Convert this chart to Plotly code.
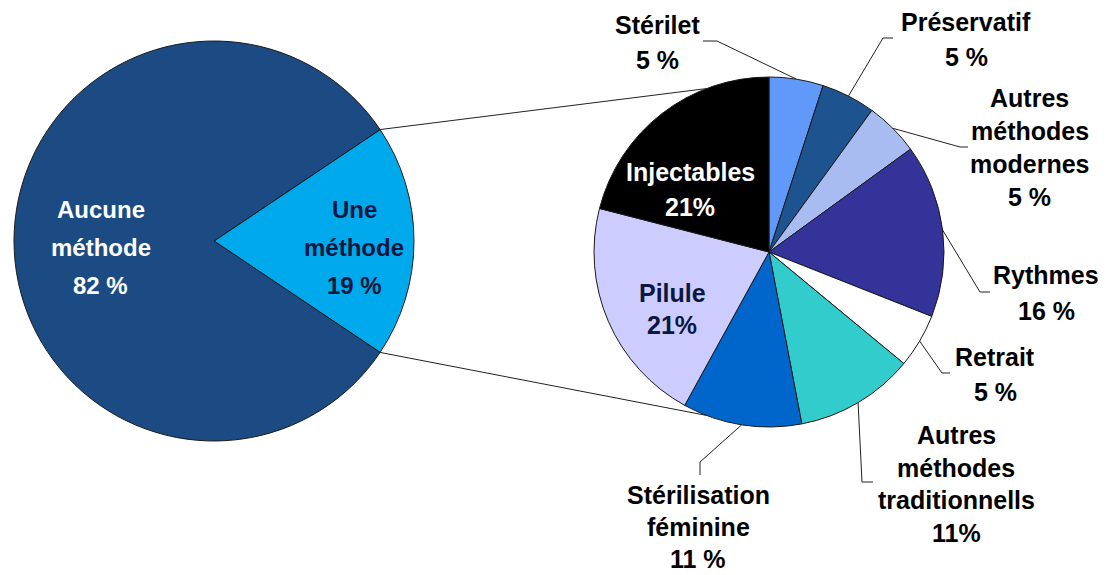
import math
import plotly.graph_objects as go

W, H = 1112, 575
OFF = 8  # the page body margin shifts the figure by this many pixels

# ---------------- data ----------------
LEFT_LABELS = ["Une méthode", "Aucune méthode"]
LEFT_VALUES = [19, 82]
LEFT_TEXT = ["19 %", "82 %"]
LEFT_COLORS = ["#00A9EC", "#1B4B82"]

RIGHT_LABELS = ["Stérilet", "Préservatif", "Autres méthodes modernes", "Rythmes",
                "Retrait", "Autres méthodes traditionnells", "Stérilisation féminine",
                "Pilule", "Injectables"]
RIGHT_VALUES = [5, 5, 5, 16, 5, 11, 11, 21, 21]
RIGHT_TEXT = ["5 %", "5 %", "5 %", "16 %", "5 %", "11%", "11 %", "21%", "21%"]
RIGHT_COLORS = ["#6199FA", "#1D538F", "#A9BCF2", "#333399", "#FFFFFF",
                "#33CCCC", "#0066CC", "#CCCCFF", "#000000"]

# ---------------- layout geometry (pixels in the photographed page) ----------------
LC = (214, 241); LR = 200      # left pie centre / radius
RC = (769, 252); RR = 175      # right pie centre / radius
CONNECT_ANGLE = 21             # where the connectors meet the right pie (deg from vertical)

FONT = "Liberation Sans, Arial, sans-serif"
FS = 24
FS_OUT = 25


def px(x):
    return (x - OFF) / W


def py(y):
    return 1 - (y - OFF) / H


def domain(c, r):
    return dict(x=[px(c[0] - r), px(c[0] + r)], y=[py(c[1] + r), py(c[1] - r)])


def on_circle(c, r, ang_deg):
    a = math.radians(ang_deg)
    return (c[0] + r * math.sin(a), c[1] - r * math.cos(a))


total_left = sum(LEFT_VALUES)
half_une = LEFT_VALUES[0] / total_left * 180.0
left_rotation = 90 - half_une

fig = go.Figure()
fig.add_trace(go.Pie(
    labels=LEFT_LABELS, values=LEFT_VALUES, sort=False, direction="clockwise",
    rotation=left_rotation, textinfo="none", hoverinfo="label+value",
    marker=dict(colors=LEFT_COLORS, line=dict(color="#1a1a1a", width=1)),
    domain=domain(LC, LR), showlegend=False,
))
fig.add_trace(go.Pie(
    labels=RIGHT_LABELS, values=RIGHT_VALUES, sort=False, direction="clockwise",
    rotation=0, textinfo="none", hoverinfo="label+value",
    marker=dict(colors=RIGHT_COLORS, line=dict(color="#1a1a1a", width=1)),
    domain=domain(RC, RR), showlegend=False,
))

shapes = []


def seg(p, q, color="#222222"):
    shapes.append(dict(type="line", xref="paper", yref="paper",
                       x0=px(p[0]), y0=py(p[1]), x1=px(q[0]), y1=py(q[1]),
                       line=dict(color=color, width=1)))


# connectors between the two pies
p_top = on_circle(LC, LR, 90 - half_une)
p_bot = on_circle(LC, LR, 90 + half_une)
q_top = on_circle(RC, RR, 360 - CONNECT_ANGLE)
q_bot = on_circle(RC, RR, 180 + CONNECT_ANGLE)
seg(p_top, q_top)
seg(p_bot, q_bot)

# leader lines for outside labels: start on mid-angle of slice
total_right = sum(RIGHT_VALUES)
mids = []
acc = 0
for v in RIGHT_VALUES:
    mids.append((acc + v / 2) / total_right * 360)
    acc += v

LEADERS = {   # index -> list of elbow points (pixels)
    0: [(717, 41), (703, 41)],
    1: [(883, 38), (893, 38)],
    2: [(960, 147), (968, 147)],
    3: [(980, 292), (990, 292)],
    4: [(942, 373), (950, 373)],
    5: [(862, 482), (873, 482)],
    6: [(700, 462), (700, 475)],
}
for i, pts in LEADERS.items():
    start = on_circle(RC, RR, mids[i])
    chain = [start] + pts
    for a, b in zip(chain[:-1], chain[1:]):
        seg(a, b)

annotations = []


def label(lines, cx, y0, step, color, size=FS):
    for k, t in enumerate(lines):
        annotations.append(dict(
            text="<b>" + t + "</b>", x=px(cx), y=py(y0 + k * step),
            xref="paper", yref="paper", xanchor="center", yanchor="middle",
            showarrow=False, font=dict(family=FONT, size=size, color=color)))


DARK = "#0B1740"
# left pie
label(["Une", "méthode", LEFT_TEXT[0]], 354, 210, 37.5, DARK)
label(["Aucune", "méthode", LEFT_TEXT[1]], 101, 210, 37.5, "#FFFFFF")

# right pie
label(["Stérilet", RIGHT_TEXT[0]], 657, 25, 35, "#000000", FS_OUT)
label(["Préservatif", RIGHT_TEXT[1]], 966, 22, 35, "#000000", FS_OUT)
label(["Autres", "méthodes", "modernes", RIGHT_TEXT[2]], 1030, 98, 33, "#000000", FS_OUT)
label(["Rythmes", RIGHT_TEXT[3]], 1046, 275, 36, "#000000", FS_OUT)
label(["Retrait", RIGHT_TEXT[4]], 995, 357, 35, "#000000", FS_OUT)
label(["Autres", "méthodes", "traditionnells", RIGHT_TEXT[5]], 956, 435, 32.5, "#000000", FS_OUT)
label(["Stérilisation", "féminine", RIGHT_TEXT[6]], 698, 495, 32, "#000000", FS_OUT)
label(["Pilule", RIGHT_TEXT[7]], 672, 293, 32, DARK, FS_OUT)
label(["Injectables", RIGHT_TEXT[8]], 690, 172, 35, "#FFFFFF", FS_OUT)

fig.update_layout(
    width=W, height=H, margin=dict(l=0, r=0, t=0, b=0),
    paper_bgcolor="white", plot_bgcolor="white",
    shapes=shapes, annotations=annotations, showlegend=False,
)

fig.write_html("out.html")
